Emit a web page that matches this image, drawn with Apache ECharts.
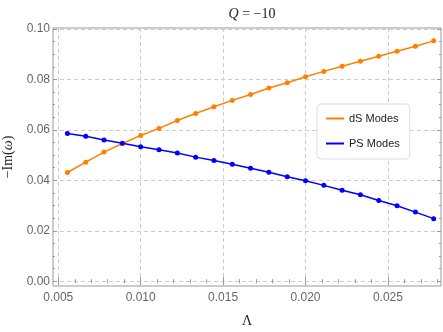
<!DOCTYPE html>
<html>
<head>
<meta charset="utf-8">
<script src="https://cdn.jsdelivr.net/npm/echarts@6/dist/echarts.min.js"></script>
<style>html,body{margin:0;padding:0;background:#fff}#main{width:443px;height:332px}</style>
</head>
<body>
<div id="main"></div>
<script>
// Lambda values: (5+i)/900
var lambdas = [];
for (var i = 0; i < 21; i++) lambdas.push((5 + i) / 900);

var dsModes = [0.0431, 0.0472, 0.0512, 0.0546, 0.0578, 0.0606, 0.0637, 0.0665, 0.0692, 0.0717, 0.0740,
               0.0766, 0.0787, 0.0811, 0.0832, 0.0852, 0.0872, 0.0892, 0.0912, 0.0932, 0.0953];
var psModes = [0.0586, 0.0575, 0.0560, 0.0547, 0.0533, 0.0521, 0.0508, 0.0492, 0.0479, 0.0464, 0.0448,
               0.0432, 0.0414, 0.0398, 0.0380, 0.0361, 0.0343, 0.0320, 0.0299, 0.0274, 0.0248];

var xTicks = [0.005, 0.010, 0.015, 0.020, 0.025];
var yTicks = [0.00, 0.02, 0.04, 0.06, 0.08, 0.10];
var xMinor = [], yMinor = [];
for (var k = 5; k <= 28; k++) if (k % 5) xMinor.push(k / 1000);
for (var k = 0; k <= 20; k++) if (k % 4) yMinor.push(k * 0.005);

var echart = echarts.init(document.getElementById('main'));
var frame = '#999999';
var labelColor = '#666666';

function pair(arr) {
    return lambdas.map(function (x, i) { return [x, arr[i]]; });
}

var xMin = 0.00468, xMax = 0.02822, yMin = -0.0019, yMax = 0.1004;

function xAx(pos, values, len, showLabel, showGrid) {
    return {
        type: 'value', position: pos, min: xMin, max: xMax,
        axisLine: {show: false},
        axisTick: {show: true, inside: true, length: len, customValues: values, lineStyle: {color: frame}},
        axisLabel: {show: showLabel, customValues: values, color: labelColor, fontSize: 12,
                    fontFamily: 'Liberation Sans', margin: 6,
                    formatter: function (v) { return v.toFixed(3); }},
        splitLine: {show: showGrid, lineStyle: {color: '#cccccc', type: [4, 3]}}
    };
}
function yAx(pos, values, len, showLabel, showGrid) {
    return {
        type: 'value', position: pos, min: yMin, max: yMax,
        axisLine: {show: false},
        axisTick: {show: true, inside: true, length: len, customValues: values, lineStyle: {color: frame}},
        axisLabel: {show: showLabel, customValues: values, color: labelColor, fontSize: 12,
                    fontFamily: 'Liberation Sans', margin: 3,
                    formatter: function (v) { return v.toFixed(2); }},
        splitLine: {show: showGrid, lineStyle: {color: '#cccccc', type: [4, 3]}}
    };
}

var xa = [xAx('bottom', xTicks, 4, true, true), xAx('bottom', xMinor, 2, false, false),
          xAx('top', xTicks, 4, false, false), xAx('top', xMinor, 2, false, false)];
var ya = [yAx('left', yTicks, 4, true, true), yAx('left', yMinor, 2, false, false),
          yAx('right', yTicks, 4, false, false), yAx('right', yMinor, 2, false, false)];
xa[0].name = 'Λ';
xa[0].nameLocation = 'middle';
xa[0].nameGap = 28;
xa[0].nameTextStyle = {fontFamily: 'Liberation Serif', fontSize: 14, color: '#222'};
ya[0].name = '{r|−Im(}{i|ω}{r|)}';
ya[0].nameLocation = 'middle';
ya[0].nameGap = 37;
ya[0].nameTextStyle = {rich: {
    r: {fontFamily: 'Liberation Serif', fontSize: 14, color: '#222'},
    i: {fontFamily: 'Liberation Serif', fontSize: 14, fontStyle: 'italic', color: '#222'}
}};

option = {
    animation: false,
    backgroundColor: '#fff',
    title: {
        text: '{i|Q} = −10',
        left: 247, top: 2, textAlign: 'center',
        textStyle: {
            rich: {
                i: {fontFamily: 'Liberation Serif', fontSize: 14, fontStyle: 'italic', color: '#222'}
            },
            fontFamily: 'Liberation Serif', fontSize: 14, fontWeight: 'normal', color: '#222'
        }
    },
    grid: {left: 53, right: 2, top: 28, bottom: 46, show: true, borderColor: frame, borderWidth: 1,
           outerBoundsMode: 'none', containLabel: false},
    legend: {
        left: 317, top: 104, orient: 'vertical',
        padding: [9, 10, 10, 9], itemGap: 14,
        backgroundColor: '#fff', borderColor: '#dddddd', borderWidth: 1, borderRadius: 4,
        icon: 'rect', itemWidth: 18, itemHeight: 2,
        textStyle: {fontFamily: 'Liberation Sans', fontSize: 11, color: '#222'},
        data: ['dS Modes', 'PS Modes']
    },
    xAxis: xa,
    yAxis: ya,
    series: [
        {name: 'dS Modes', type: 'line', data: pair(dsModes), symbol: 'circle', symbolSize: 5,
         itemStyle: {color: '#ff8000'}, lineStyle: {width: 1.5, color: '#ff8000'}},
        {name: 'PS Modes', type: 'line', data: pair(psModes), symbol: 'circle', symbolSize: 5,
         itemStyle: {color: '#0000ff'}, lineStyle: {width: 1.5, color: '#0000ff'}}
    ]
};

echart.setOption(option);
</script>
</body>
</html>
